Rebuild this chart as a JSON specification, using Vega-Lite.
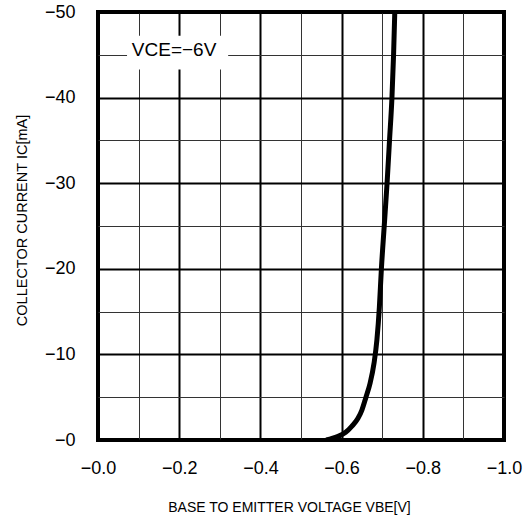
{
  "$schema": "https://vega.github.io/schema/vega-lite/v6.json",
  "width": 406,
  "height": 428,
  "autosize": "none",
  "padding": {"left": 98, "top": 12, "right": 24, "bottom": 77},
  "background": "white",
  "config": {
    "view": {"stroke": "black", "strokeWidth": 4},
    "font": "Liberation Sans",
    "axis": {"ticks": false, "domain": false, "labelFlush": false, "labelOverlap": false, "labelBound": false, "gridOpacity": 1}
  },
  "datasets": {
    "curve": [
      {"VBE": -0.562, "IC": 0},
      {"VBE": -0.59, "IC": -0.4},
      {"VBE": -0.61, "IC": -0.9},
      {"VBE": -0.625, "IC": -1.6},
      {"VBE": -0.64, "IC": -2.5},
      {"VBE": -0.65, "IC": -3.5},
      {"VBE": -0.66, "IC": -5.0},
      {"VBE": -0.67, "IC": -6.6},
      {"VBE": -0.68, "IC": -9.0},
      {"VBE": -0.687, "IC": -11.7},
      {"VBE": -0.693, "IC": -15.5},
      {"VBE": -0.698, "IC": -20.0},
      {"VBE": -0.705, "IC": -25.0},
      {"VBE": -0.712, "IC": -30.0},
      {"VBE": -0.718, "IC": -35.0},
      {"VBE": -0.724, "IC": -40.0},
      {"VBE": -0.728, "IC": -45.0},
      {"VBE": -0.731, "IC": -50.0}
    ],
    "noteBox": [
      {"VBE": -0.0715, "VBE2": -0.3206, "IC": -43.27, "IC2": -47.23}
    ],
    "noteText": [
      {"VBE": -0.1874, "IC": -45.6, "label": "VCE=−6V"}
    ]
  },
  "encoding": {
    "x": {
      "field": "VBE",
      "type": "quantitative",
      "scale": {"domain": [0, -1], "nice": false, "zero": false},
      "axis": {
        "title": "BASE TO EMITTER VOLTAGE VBE[V]",
        "titleFontSize": 14,
        "titleFontWeight": "normal",
        "titlePadding": 23,
        "titleX": 191,
        "values": [0, -0.1, -0.2, -0.3, -0.4, -0.5, -0.6, -0.7, -0.8, -0.9, -1.0],
        "labelExpr": "abs(round(datum.value*10)) % 2 == 0 ? '−' + format(abs(datum.value), '.1f') : ''",
        "labelFontSize": 18,
        "labelColor": "black",
        "labelPadding": 19,
        "gridWidth": {"condition": {"test": "abs(round(datum.value*10)) % 2 == 0", "value": 2}, "value": 1},
        "gridColor": {"condition": {"test": "abs(round(datum.value*10)) % 2 == 0", "value": "black"}, "value": "#333333"}
      }
    },
    "y": {
      "field": "IC",
      "type": "quantitative",
      "scale": {"domain": [0, -50], "nice": false, "zero": false},
      "axis": {
        "title": "COLLECTOR CURRENT IC[mA]",
        "titleFontSize": 14.5,
        "titleFontWeight": "normal",
        "titlePadding": 15,
        "titleY": 208,
        "values": [0, -5, -10, -15, -20, -25, -30, -35, -40, -45, -50],
        "labelExpr": "abs(datum.value) % 10 == 0 ? '−' + abs(datum.value) : ''",
        "labelFontSize": 18,
        "labelColor": "black",
        "labelPadding": 23,
        "gridWidth": {"condition": {"test": "abs(datum.value) % 10 == 0", "value": 2}, "value": 1},
        "gridColor": {"condition": {"test": "abs(datum.value) % 10 == 0", "value": "black"}, "value": "#333333"}
      }
    }
  },
  "layer": [
    {
      "data": {"name": "curve"},
      "mark": {"type": "line", "color": "black", "strokeWidth": 5, "interpolate": "monotone", "clip": true}
    },
    {
      "data": {"name": "noteBox"},
      "mark": {"type": "rect", "fill": "white"},
      "encoding": {"x2": {"field": "VBE2"}, "y2": {"field": "IC2"}}
    },
    {
      "data": {"name": "noteText"},
      "mark": {"type": "text", "fontSize": 19, "color": "black", "baseline": "middle", "align": "center"},
      "encoding": {"text": {"field": "label"}}
    }
  ]
}
